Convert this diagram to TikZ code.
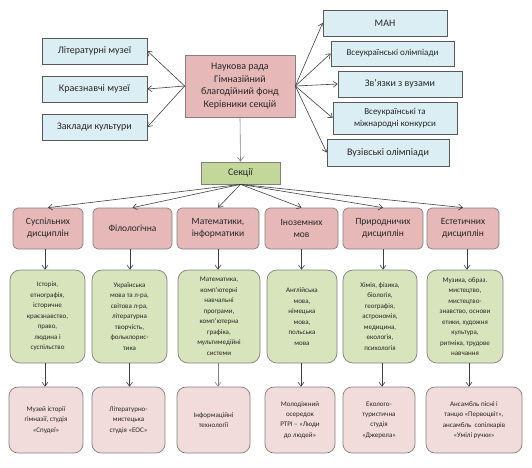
\documentclass[tikz,border=0pt]{standalone}
\usepackage{fontspec}
\setmainfont{Carlito}
\usetikzlibrary{arrows.meta}
\definecolor{bluefill}{HTML}{DBEEF4}
\definecolor{pinkfill}{HTML}{E6B9B8}
\definecolor{lightpink}{HTML}{F2DCDB}
\definecolor{greenfill}{HTML}{D8E4BC}
\definecolor{sekfill}{HTML}{C4D79B}
\definecolor{bordergray}{HTML}{595959}
\definecolor{linegray}{HTML}{404040}
\definecolor{txt}{HTML}{262626}
\tikzset{
  box/.style={draw=bordergray, line width=0.7pt, inner sep=1pt, align=center, text=txt, font=\fontsize{10}{12.7}\selectfont},
  bluebox/.style={box, fill=bluefill},
  centerbox/.style={box, fill=pinkfill, draw=gray},
  sekbox/.style={box, fill=sekfill, draw=gray},
  secbox/.style={box, fill=pinkfill, draw=gray, rounded corners=5pt, minimum height=41pt, font=\fontsize{9.5}{12}\selectfont},
  greenbox/.style={box, fill=greenfill, draw=gray, rounded corners=10pt, minimum height=93pt, font=\fontsize{7}{10.5}\selectfont},
  resbox/.style={box, fill=lightpink, draw=gray, rounded corners=9pt, minimum height=66pt, font=\fontsize{7}{10.3}\selectfont},
  arr/.style={draw=linegray, line width=0.6pt, -{Straight Barb[length=4pt,width=6pt]}},
}
\begin{document}
\begin{tikzpicture}[x=1pt,y=-1pt]
\useasboundingbox (0,0) rectangle (532,467);
% left boxes
\node[bluebox, minimum width=105pt, minimum height=26pt] (l1) at (94.5,51) {Літературні музеї};
\node[bluebox, minimum width=105pt, minimum height=26pt] (l2) at (94.5,89) {Краєзнавчі музеї};
\node[bluebox, minimum width=105pt, minimum height=26pt] (l3) at (94.5,127) {Заклади культури};
% center
\node[centerbox, minimum width=110pt, minimum height=62pt] (c) at (240,86) {Наукова рада\\Гімназійний\\благодійний фонд\\Керівники секцій};
% right boxes
\node[bluebox, minimum width=124pt, minimum height=26pt] (r1) at (385,23) {МАН};
\node[bluebox, minimum width=123pt, minimum height=25pt, font=\fontsize{9}{11}\selectfont] (r2) at (392.5,53.5) {Всеукраїнські олімпіади};
\node[bluebox, minimum width=124pt, minimum height=26pt] (r3) at (400,84) {Зв’язки з вузами};
\node[bluebox, minimum width=124pt, minimum height=32pt, font=\fontsize{9}{12}\selectfont] (r4) at (395,118) {Всеукраїнські та\\міжнародні конкурси};
\node[bluebox, minimum width=122pt, minimum height=27pt] (r5) at (388,152.5) {Вузівські олімпіади};
% sections
\node[sekbox, minimum width=79pt, minimum height=22pt] (sek) at (240.5,173) {Секції};
\node[secbox, minimum width=70pt] (s1) at (48,228.5) {Суспільних\\дисциплін};
\node[secbox, minimum width=79pt] (s2) at (132.5,228.5) {Філологічна};
\node[secbox, minimum width=82pt] (s3) at (218,228.5) {Математики,\\інформатики};
\node[secbox, minimum width=73pt] (s4) at (301.5,228.5) {Іноземних\\мов};
\node[secbox, minimum width=80pt] (s5) at (383,228.5) {Природничих\\дисциплін};
\node[secbox, minimum width=72pt] (s6) at (463,228.5) {Естетичних\\дисциплін};
% subjects
\node[greenbox, minimum width=75pt] (g1) at (47.5,316.5) {Історія,\\етнографія,\\історичне\\краєзнавство,\\право,\\людина і\\суспільство};
\node[greenbox, minimum width=75pt] (g2) at (129.5,316.5) {Українська\\мова та л-ра,\\світова л-ра,\\літературна\\творчість,\\фольклорис-\\тика};
\node[greenbox, minimum width=82pt] (g3) at (219,316.5) {Математика,\\комп’ютерні\\навчальні\\програми,\\комп’ютерна\\графіка,\\мультимедійні\\системи};
\node[greenbox, minimum width=70pt] (g4) at (302,316.5) {Англійська\\мова,\\німецька\\мова,\\польська\\мова};
\node[greenbox, minimum width=74pt] (g5) at (380,316.5) {Хімія, фізика,\\біологія,\\географія,\\астрономія,\\медицина,\\екологія,\\психологія};
\node[greenbox, minimum width=76pt] (g6) at (465,316.5) {Музика, образ.\\мистецтво,\\мистецтво-\\знавство, основи\\етики, художня\\культура,\\ритміка, трудове\\навчання};
% results
\node[resbox, minimum width=74pt] (p1) at (46,420) {Музей історії\\гімназії, студія\\«Спудеї»};
\node[resbox, minimum width=73pt] (p2) at (128.5,420) {Літературно-\\мистецька\\студія «ЕОС»};
\node[resbox, minimum width=73pt] (p3) at (213.5,420) {Інформаційні\\технології};
\node[resbox, minimum width=70pt] (p4) at (300,420) {Молодіжний\\осередок\\РТРІ – «Люди\\до людей»};
\node[resbox, minimum width=72pt] (p5) at (379,420) {Еколого-\\туристична\\студія\\«Джерела»};
\node[resbox, minimum width=96pt] (p6) at (474,420) {Ансамбль пісні і\\танцю «Первоцвіт»,\\ансамбль~ сопілкарів\\«Умілі ручки»};
% arrows
\foreach \t in {l1,l2,l3} \draw[arr] (c.west) -- (\t.east);
\foreach \t in {r1,r2,r3,r4,r5} \draw[arr] (c.east) -- (\t.west);
\draw[arr, draw=gray] (c.south) -- (sek.north);
\foreach \t in {s1,s2,s3,s4,s5,s6} \draw[arr] (sek.south) -- (\t.north);
\draw[arr] ([xshift=-3pt]s1.south) -- ([xshift=-3pt]s1.south |- g1.north);
\draw[arr] ([xshift=-2.5pt]s2.south) -- ([xshift=-2.5pt]s2.south |- g2.north);
\draw[arr] (s3.south) -- (s3.south |- g3.north);
\draw[arr] (s4.south) -- (s4.south |- g4.north);
\draw[arr] (s5.south) -- (s5.south |- g5.north);
\draw[arr] ([xshift=4pt]s6.south) -- ([xshift=4pt]s6.south |- g6.north);
\draw[arr] ([xshift=-2.5pt]g1.south) -- ([xshift=-2.5pt]g1.south |- p1.north);
\draw[arr] (g2.south) -- (g2.south |- p2.north);
\draw[arr, draw=gray] ([xshift=-1pt]g3.south) -- ([xshift=-1pt]g3.south |- p3.north);
\draw[arr] ([xshift=-1pt]g4.south) -- ([xshift=-1pt]g4.south |- p4.north);
\draw[arr] ([xshift=2pt]g5.south) -- ([xshift=2pt]g5.south |- p5.north);
\draw[arr] ([xshift=4pt]g6.south) -- ([xshift=4pt]g6.south |- p6.north);
\end{tikzpicture}
\end{document}
